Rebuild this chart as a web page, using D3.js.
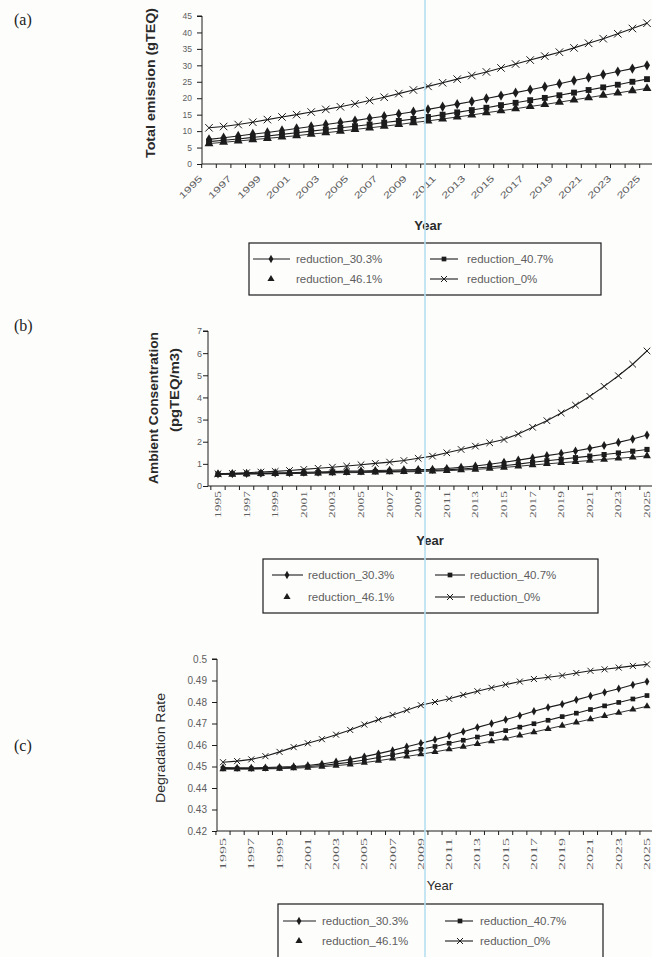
<!DOCTYPE html>
<html><head><meta charset="utf-8">
<script src="https://cdn.jsdelivr.net/npm/d3@7"></script>
<style>body{margin:0;background:#fdfdfc;} svg{display:block}</style>
</head><body>
<svg id="chart" width="652" height="957"></svg>
<script>
// ---------- data ----------
const years = [1995,1996,1997,1998,1999,2000,2001,2002,2003,2004,2005,2006,2007,2008,2009,2010,
               2011,2012,2013,2014,2015,2016,2017,2018,2019,2020,2021,2022,2023,2024,2025];
const tickYears = [1995,1997,1999,2001,2003,2005,2007,2009,2011,2013,2015,2017,2019,2021,2023,2025];
const seriesNames = ["reduction_30.3%","reduction_40.7%","reduction_46.1%","reduction_0%"];

// (a) Total emission (gTEQ)
const emission30 = [7.5,8.0,8.5,9.1,9.6,10.2,10.8,11.4,12.0,12.6,13.2,13.9,14.5,15.2,15.9,16.6,17.4,18.2,19.0,19.9,20.8,21.7,22.6,23.5,24.4,25.4,26.3,27.2,28.1,29.0,30.0];
const emission40 = [6.8,7.2,7.6,8.1,8.5,9.0,9.5,10.0,10.5,11.0,11.5,12.0,12.6,13.1,13.7,14.3,15.0,15.7,16.4,17.1,17.9,18.6,19.4,20.1,20.9,21.7,22.5,23.3,24.1,25.0,25.8];
const emission46 = [6.2,6.6,7.0,7.4,7.8,8.2,8.6,9.1,9.5,10.0,10.5,11.0,11.5,12.0,12.6,13.1,13.7,14.3,14.9,15.6,16.2,16.8,17.5,18.1,18.8,19.5,20.2,20.9,21.6,22.3,23.0];
const emission0  = [11.0,11.4,12.0,12.7,13.5,14.3,15.0,15.8,16.6,17.4,18.3,19.3,20.3,21.4,22.5,23.6,24.7,25.8,26.9,28.0,29.2,30.4,31.6,32.8,34.0,35.3,36.7,38.1,39.6,41.2,42.8];
const emissionTicks = [0,5,10,15,20,25,30,35,40,45];

// (b) Ambient concentration (pgTEQ/m3)
const conc30 = [0.55,0.56,0.57,0.58,0.59,0.60,0.62,0.63,0.65,0.67,0.68,0.70,0.71,0.73,0.74,0.75,0.79,0.84,0.90,0.98,1.07,1.17,1.27,1.37,1.47,1.58,1.70,1.83,1.97,2.12,2.30];
const conc40 = [0.53,0.54,0.55,0.56,0.57,0.58,0.59,0.60,0.61,0.63,0.64,0.65,0.66,0.67,0.69,0.70,0.73,0.77,0.81,0.86,0.92,0.99,1.07,1.14,1.21,1.28,1.35,1.42,1.49,1.57,1.65];
const conc46 = [0.52,0.53,0.54,0.55,0.55,0.56,0.57,0.58,0.59,0.60,0.61,0.62,0.63,0.64,0.65,0.67,0.69,0.72,0.75,0.79,0.84,0.89,0.95,1.00,1.05,1.10,1.15,1.20,1.25,1.30,1.36];
const conc0  = [0.55,0.57,0.60,0.63,0.66,0.70,0.75,0.80,0.85,0.90,0.96,1.02,1.08,1.15,1.25,1.35,1.50,1.65,1.80,1.95,2.10,2.35,2.65,2.95,3.30,3.65,4.05,4.50,4.98,5.50,6.10];
const concTicks = [0,1,2,3,4,5,6,7];

// (c) Degradation rate
const degr30 = [0.4495,0.4494,0.4494,0.4495,0.4497,0.4500,0.4505,0.4512,0.4522,0.4533,0.4546,0.4560,0.4575,0.4592,0.4608,0.4625,0.4643,0.4662,0.4682,0.4700,0.4718,0.4737,0.4757,0.4775,0.4790,0.4810,0.4828,0.4845,0.4862,0.4880,0.4895];
const degr40 = [0.4490,0.4490,0.4490,0.4491,0.4493,0.4496,0.4500,0.4505,0.4512,0.4520,0.4530,0.4542,0.4555,0.4568,0.4580,0.4593,0.4608,0.4622,0.4637,0.4652,0.4667,0.4683,0.4699,0.4715,0.4732,0.4748,0.4765,0.4782,0.4798,0.4814,0.4830];
const degr46 = [0.4488,0.4488,0.4488,0.4489,0.4490,0.4492,0.4495,0.4499,0.4504,0.4510,0.4518,0.4527,0.4537,0.4547,0.4557,0.4568,0.4580,0.4592,0.4605,0.4618,0.4630,0.4645,0.4660,0.4675,0.4690,0.4705,0.4720,0.4735,0.4750,0.4765,0.4780];
const degr0  = [0.4520,0.4525,0.4533,0.4548,0.4568,0.4590,0.4608,0.4627,0.4648,0.4670,0.4695,0.4718,0.4740,0.4762,0.4785,0.4800,0.4815,0.4833,0.4850,0.4866,0.4881,0.4895,0.4907,0.4915,0.4923,0.4935,0.4945,0.4952,0.4960,0.4968,0.4975];
const degrTicks = [0.42,0.43,0.44,0.45,0.46,0.47,0.48,0.49,0.5];
const degrTickLabels = ["0.42","0.43","0.44","0.45","0.46","0.47","0.48","0.49","0.5"];

// ---------- drawing ----------
const svg = d3.select("#chart");
const INK = "#1c1c1c", GREY = "#5e5e5e";
const markerTypes = ["diamond","square","triangle","cross"];

function marker(g, type, x, y, s) {
  s = s || 1;
  if (type === "cross") {
    const r = 3 * s;
    g.append("path").attr("d", `M${x-r},${y-r}L${x+r},${y+r}M${x-r},${y+r}L${x+r},${y-r}`)
      .attr("stroke", INK).attr("stroke-width", 1).attr("fill", "none");
  } else {
    const sym = type === "diamond" ? d3.symbolDiamond : type === "square" ? d3.symbolSquare : d3.symbolTriangle;
    const size = type === "diamond" ? 20 : 22;
    g.append("path").attr("d", d3.symbol().type(sym).size(size * s * s)())
      .attr("transform", `translate(${x},${y})`).attr("fill", INK);
  }
}

const panels = [
  { tag: "(a)", tagY: 25, mScale: 1.25,
    axisX: 202, px0: 209, px1: 647, yDomain: [0, 45], yRange: [164, 16],
    ticks: emissionTicks, tickLabels: emissionTicks.map(String), tickFont: 8.5, tickRight: 192,
    series: [emission30, emission40, emission46, emission0],
    xLabelMode: "diag",
    yTitle: [{ text: "Total emission (gTEQ)", x: 151, y: 83, len: 150, size: 12.5, weight: "bold" }],
    yearLabel: { x: 428, y: 230, weight: "bold" },
    legend: { box: [249, 243, 352, 52], rows: [259, 279],
      cols: [{ l0: 253, l1: 290, m: 271, t: 296 }, { l0: 430, l1: 458, m: 444, t: 467 }] } },
  { tag: "(b)", tagY: 331, mScale: 1.1,
    axisX: 208, px0: 218, px1: 647, yDomain: [0, 7], yRange: [486, 331],
    ticks: concTicks, tickLabels: concTicks.map(String), tickFont: 9, tickRight: 202,
    series: [conc30, conc40, conc46, conc0],
    xLabelMode: "vert", xLabLen: 27, xLabGap: 5,
    yTitle: [{ text: "Ambient Consentration", x: 154, y: 408, len: 152, size: 12.5, weight: "bold" },
             { text: "(pgTEQ/m3)", x: 175, y: 390, len: 84, size: 12.5, weight: "bold" }],
    yearLabel: { x: 430, y: 545, weight: "bold" },
    legend: { box: [263, 559, 335, 54], rows: [575, 597],
      cols: [{ l0: 272, l1: 303, m: 287, t: 308 }, { l0: 435, l1: 465, m: 450, t: 470 }] } },
  { tag: "(c)", tagY: 751, mScale: 1,
    axisX: 217, px0: 223, px1: 647, yDomain: [0.42, 0.5], yRange: [831, 659],
    ticks: degrTicks, tickLabels: degrTickLabels, tickFont: 10, tickRight: 207,
    series: [degr30, degr40, degr46, degr0],
    xLabelMode: "vert", xLabLen: 32, xLabGap: 7,
    yTitle: [{ text: "Degradation Rate", x: 161, y: 748, len: 110, size: 12.5, weight: "normal" }],
    yearLabel: { x: 440, y: 890, weight: "normal" },
    legend: { box: [278, 904, 325, 60], rows: [921, 941],
      cols: [{ l0: 283, l1: 316, m: 299, t: 322 }, { l0: 445, l1: 473, m: 460, t: 480 }] } }
];

panels.forEach(p => {
  const g = svg.append("g");
  const x = d3.scalePoint().domain(years).range([p.px0, p.px1]);
  const step = x.step();
  const y = d3.scaleLinear().domain(p.yDomain).range(p.yRange);
  const baseY = p.yRange[0];

  // panel tag
  svg.append("text").attr("x", 14).attr("y", p.tagY).text(p.tag)
    .attr("font-family", "Liberation Serif, Times New Roman, serif").attr("font-size", 16).attr("fill", "#222");

  // y axis
  const yAxis = d3.axisLeft(y).tickValues(p.ticks).tickSize(5).tickPadding(4)
    .tickFormat((d, i) => p.tickLabels[i]);
  const ya = g.append("g").attr("transform", `translate(${p.axisX},0)`).call(yAxis);
  ya.select(".domain").attr("stroke", INK).attr("d", `M-5,${p.yRange[1]}H0V${baseY}`);
  ya.selectAll(".tick line").attr("stroke", INK);
  ya.selectAll(".tick text").attr("font-family", "Liberation Sans, Arial, sans-serif")
    .attr("font-size", p.tickFont).attr("fill", GREY).attr("x", p.tickRight - p.axisX);

  // x axis (category axis; ticks between categories)
  const bounds = years.map(yr => x(yr) - step / 2).concat([x(years[years.length - 1]) + step / 2]);
  const xa = g.append("g");
  xa.append("line").attr("x1", p.axisX).attr("x2", 660).attr("y1", baseY).attr("y2", baseY)
    .attr("stroke", INK).attr("stroke-width", 1);
  xa.selectAll("line.tk").data(bounds).join("line").attr("class", "tk")
    .attr("x1", d => d).attr("x2", d => d).attr("y1", baseY).attr("y2", baseY + 4)
    .attr("stroke", INK);
  if (p.xLabelMode === "diag") {
    xa.selectAll("text").data(tickYears).join("text")
      .attr("transform", d => `translate(${x(d) - 6},${baseY + 15}) rotate(-45)`)
      .attr("text-anchor", "end").attr("font-family", "Liberation Sans, Arial, sans-serif")
      .attr("font-size", 9).attr("fill", GREY)
      .attr("textLength", 29).attr("lengthAdjust", "spacingAndGlyphs")
      .text(d => String(d));
  } else {
    xa.selectAll("text").data(tickYears).join("text")
      .attr("transform", d => `translate(${x(d) + 3},${baseY + p.xLabGap}) rotate(-90)`)
      .attr("text-anchor", "end").attr("font-family", "Liberation Serif, Times New Roman, serif")
      .attr("font-size", 9).attr("fill", GREY)
      .attr("textLength", p.xLabLen).attr("lengthAdjust", "spacingAndGlyphs")
      .text(d => String(d));
  }

  // series
  const line = d3.line().x((d, i) => x(years[i])).y(d => y(d));
  p.series.forEach((vals, si) => {
    g.append("path").attr("d", line(vals)).attr("fill", "none")
      .attr("stroke", INK).attr("stroke-width", si === 2 ? 0.9 : 1.1);
    const mg = g.append("g");
    vals.forEach((v, i) => marker(mg, markerTypes[si], x(years[i]), y(v), p.mScale));
  });

  // y titles
  p.yTitle.forEach(t => {
    g.append("text").attr("transform", `translate(${t.x},${t.y}) rotate(-90)`)
      .attr("text-anchor", "middle").attr("dominant-baseline", "central")
      .attr("font-family", "Liberation Sans, Arial, sans-serif").attr("font-size", t.size)
      .attr("font-weight", t.weight).attr("fill", "#2a2a2a")
      .attr("textLength", t.len).attr("lengthAdjust", "spacingAndGlyphs").text(t.text);
  });

  // "Year"
  g.append("text").attr("x", p.yearLabel.x).attr("y", p.yearLabel.y).attr("text-anchor", "middle")
    .attr("font-family", "Liberation Sans, Arial, sans-serif").attr("font-size", 13)
    .attr("font-weight", p.yearLabel.weight).attr("fill", "#2a2a2a").text("Year");

  // legend
  const L = p.legend;
  const lg = g.append("g");
  lg.append("rect").attr("x", L.box[0]).attr("y", L.box[1]).attr("width", L.box[2]).attr("height", L.box[3])
    .attr("fill", "none").attr("stroke", INK).attr("stroke-width", 1.2);
  seriesNames.forEach((name, si) => {
    const col = L.cols[si % 2], ry = L.rows[Math.floor(si / 2)];
    if (si !== 2) lg.append("line").attr("x1", col.l0).attr("x2", col.l1).attr("y1", ry).attr("y2", ry)
      .attr("stroke", INK).attr("stroke-width", 1.1);
    marker(lg, markerTypes[si], col.m, ry);
    lg.append("text").attr("x", col.t).attr("y", ry).attr("dominant-baseline", "central")
      .attr("font-family", "Liberation Sans, Arial, sans-serif").attr("font-size", 11.5)
      .attr("fill", GREY).text(name);
  });
});

// scan artefact: faint blue vertical line
svg.append("line").attr("x1", 425).attr("x2", 425).attr("y1", 0).attr("y2", 957)
  .attr("stroke", "#b8e0f0").attr("stroke-width", 2).attr("opacity", 0.8);
</script>
</body></html>
